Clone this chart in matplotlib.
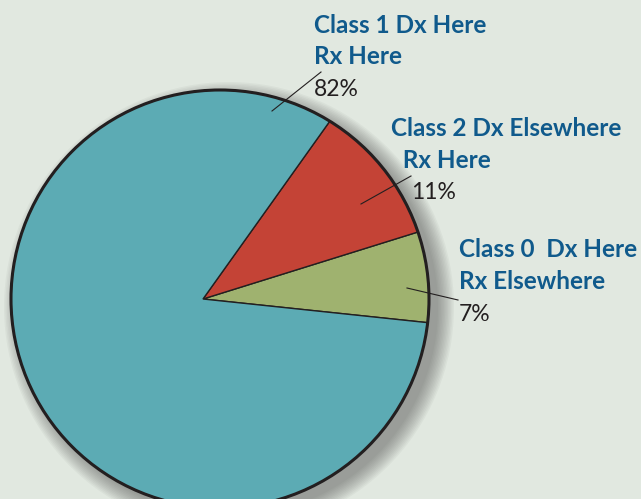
import matplotlib
matplotlib.use("Agg")
import matplotlib.pyplot as plt
from matplotlib.patches import Circle, PathPatch
from matplotlib.path import Path
import numpy as np

# slices, counterclockwise from the lower right edge
shares = [7, 11, 82]
classes = [("Class 0  Dx Here", "Rx Elsewhere"),
           ("Class 2 Dx Elsewhere", "  Rx Here"),
           ("Class 1 Dx Here", "Rx Here")]
pct_labels = ["7%", "11%", "82%"]
colors = ["#9fb26f", "#c44336", "#5cabb4"]

W, H = 641, 499
bg = "#e1e8e0"
edge = "#231f20"
blue_txt = "#105a8c"


def Y(y):
    # pixel row -> data y (data is y-up)
    return H - y


fig = plt.figure(figsize=(W / 100, H / 100), dpi=100, facecolor=bg)
ax = fig.add_axes([0, 0, 1, 1])
ax.set_facecolor(bg)

center = (220, Y(299))
apex = (203, Y(299))
radius = 209

# soft drop shadow, mostly down-right
for r in np.linspace(radius + 16, radius, 12):
    ax.add_patch(Circle((center[0] + 9, center[1] - 8), r, color="#505050",
                        alpha=0.05, lw=0, zorder=1))

wedges, _ = ax.pie(shares, colors=colors, startangle=-6.5, counterclock=True,
                   center=center, radius=radius, frame=True,
                   wedgeprops=dict(edgecolor=edge, linewidth=1.0))

# the apex of the slices sits a bit left of the disc centre in the original
for w in wedges:
    p = w.get_path()
    verts = p.vertices.copy()
    at_c = np.hypot(verts[:, 0] - center[0], verts[:, 1] - center[1]) < 1e-6
    verts[at_c] = apex
    ax.add_patch(PathPatch(Path(verts, p.codes), facecolor=w.get_facecolor(),
                           edgecolor=edge, lw=1.0, zorder=3))
    w.remove()

ax.add_patch(Circle(center, radius, fill=False, ec=edge, lw=2.2, zorder=4))

# label blocks: x, baselines of the two bold lines, baseline of the percent
blocks = [(459, 257, 289, 321), (391, 136, 168, 199), (314, 33, 64, 96)]
pct_x = [459, 411, 314]
leaders = [((407, 288), (458, 300)), ((361, 204), (411, 176)), ((272, 111), (321, 72))]

for i, (x, b1, b2, b3) in enumerate(blocks):
    ax.text(x, Y(b1), classes[i][0], color=blue_txt, fontsize=17.5, fontweight="bold",
            family="Lato", va="baseline", ha="left", zorder=5)
    ax.text(x, Y(b2), classes[i][1], color=blue_txt, fontsize=17.5, fontweight="bold",
            family="Lato", va="baseline", ha="left", zorder=5)
    ax.text(pct_x[i], Y(b3), pct_labels[i], color=edge, fontsize=16.5, family="Lato",
            va="baseline", ha="left", zorder=5)
    (x0, y0), (x1, y1) = leaders[i]
    ax.plot([x0, x1], [Y(y0), Y(y1)], color=edge, lw=0.8, zorder=5)

ax.set_xlim(0, W)
ax.set_ylim(0, H)
ax.set_aspect("auto")
ax.axis("off")

fig.savefig("out.png", dpi=100, facecolor=bg)
